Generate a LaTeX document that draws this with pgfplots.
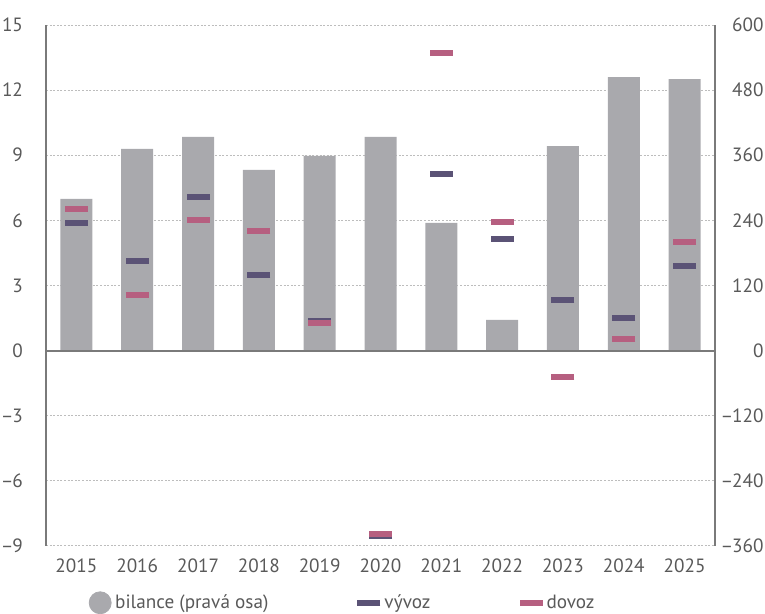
\documentclass[border=0pt]{standalone}
\usepackage{fontspec}
\setmainfont{PT Sans}
\usepackage{pgfplots}
\pgfplotsset{compat=1.18}
\definecolor{barc}{HTML}{A9A9AD}
\definecolor{vyv}{HTML}{5B5376}
\definecolor{dov}{HTML}{B65F80}
\definecolor{txt}{HTML}{595959}
\definecolor{axc}{HTML}{7A7A7A}
\definecolor{gridc}{HTML}{BDBDBD}
\newcommand{\mn}{\textendash\kern-0.6pt}
\begin{document}
\begin{tikzpicture}
\begin{axis}[name=ax1,
  width=334.5pt, height=260.5pt, scale only axis,
  xmin=-0.5, xmax=10.5, ymin=-360, ymax=600,
  axis y line*=right, axis x line=none,
  ytick={-360,-240,-120,0,120,240,360,480,600},
  yticklabels={\mn360,\mn240,\mn120,0,120,240,360,480,600},
  ymajorgrids,
  major grid style={gridc, dash pattern=on 1pt off 0.8pt, line width=0.5pt},
  y axis line style={axc, line width=0.75pt, -},
  major tick length=0pt,
  yticklabel style={anchor=east, xshift=25.5pt, inner xsep=1pt, font=\fontsize{9.6}{12}\selectfont, text=txt},
]
\addplot[ybar, bar width=16pt, fill=barc, draw=none] coordinates {
(0,279.5) (1,371.6) (2,393.7) (3,332.9) (4,358.7) (5,393.7)
(6,235.2) (7,56.5) (8,377) (9,504) (10,500.5)};
\end{axis}
\begin{axis}[at={(ax1.south west)}, anchor=south west,
  width=334.5pt, height=260.5pt, scale only axis,
  xmin=-0.5, xmax=10.5, ymin=-9, ymax=15,
  axis y line*=left, axis x line*=bottom,
  x axis line style={draw=none},
  y axis line style={axc, line width=0.75pt, -},
  xtick={0,...,10},
  xticklabels={2015,2016,2017,2018,2019,2020,2021,2022,2023,2024,2025},
  ytick={-9,-6,-3,0,3,6,9,12,15},
  yticklabels={\mn9,\mn6,\mn3,0,3,6,9,12,15},
  extra y ticks={0}, extra y tick labels={},
  extra y tick style={grid=major, major grid style={solid, axc, line width=1pt}},
  major tick length=0pt,
  ticklabel style={font=\fontsize{9.6}{12}\selectfont, text=txt},
  yticklabel style={xshift=-8pt},
  xticklabel style={yshift=-3pt},
  legend columns=3,
  legend cell align=left,
  legend style={at={(axis description cs:0.055,-0.109)}, anchor=west,
    draw=none, fill=none, font=\fontsize{9.6}{12}\selectfont, text=txt,
    /tikz/every even column/.append style={column sep=42.5pt}},
]
\addlegendimage{only marks, mark=*, mark size=5.5pt, barc}
\addlegendentry{bilance (pravá osa)}
\addplot[only marks, mark=-, mark size=5.75pt, vyv, mark options={line width=3pt}] coordinates {
(0,5.88) (1,4.13) (2,7.08) (3,3.49) (4,1.35) (5,-8.53)
(6,8.14) (7,5.15) (8,2.34) (9,1.51) (10,3.90)};
\addlegendentry{vývoz}
\addplot[only marks, mark=-, mark size=5.75pt, dov, mark options={line width=3pt}] coordinates {
(0,6.53) (1,2.57) (2,6.02) (3,5.51) (4,1.25) (5,-8.44)
(6,13.70) (7,5.93) (8,-1.21) (9,0.54) (10,5.01)};
\addlegendentry{dovoz}
\end{axis}
\pgfresetboundingbox
\path[use as bounding box] ([shift={(-23pt,-34pt)}]ax1.south west) rectangle ([shift={(25pt,12.5pt)}]ax1.north east);
\end{tikzpicture}
\end{document}
